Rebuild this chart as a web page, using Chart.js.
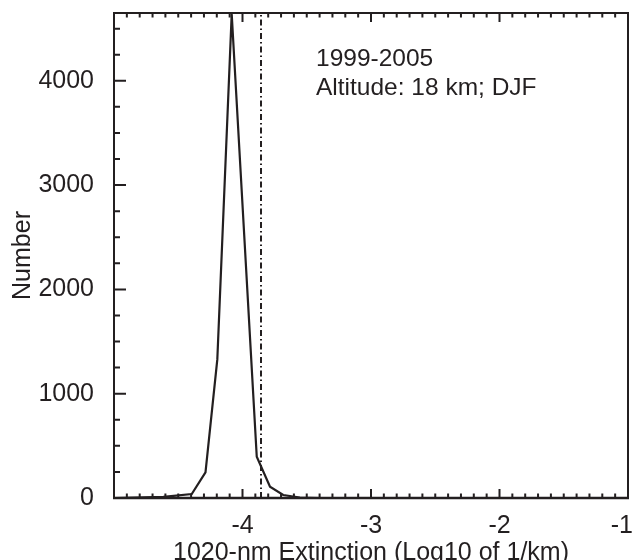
<!DOCTYPE html>
<html>
<head>
<meta charset="utf-8">
<script src="https://cdn.jsdelivr.net/npm/chart.js@4"></script>
<style>
  html, body { margin: 0; padding: 0; background: #fff; }
  #wrap { width: 633px; height: 560px; position: relative; }
</style>
</head>
<body>
<div id="wrap"><canvas id="c" width="633" height="560"></canvas></div>
<script>
// ---- data ----
const extinction = [-5.0, -4.616, -4.395, -4.288, -4.196, -4.084, -3.889, -3.786, -3.683, -3.553, -3.40];
const counts     = [0,     10,     38,     245,    1329,   4640,   395,    108,    29,     5,      0];
const medianValue = -3.856;
const xTickValues = [-5, -4, -3, -2, -1];
const xTickLabels = ['', '-4', '-3', '-2', '-1'];
const yTickValues = [0, 1000, 2000, 3000, 4000];
const yMax = 4650;
const annotationLines = ['1999-2005', 'Altitude: 18 km; DJF'];
const xTitle = '1020-nm Extinction (Log10 of 1/km)';
const yTitle = 'Number';

const FONT = '"Liberation Sans", Arial, sans-serif';
const FS = 25;
const INK = '#231f20';

const boxPlugin = {
  id: 'box',
  afterDraw(chart) {
    const ctx = chart.ctx;
    const a = chart.chartArea;
    const xs = chart.scales.x, ys = chart.scales.y;
    ctx.save();
    ctx.strokeStyle = INK;
    ctx.lineCap = 'butt';
    // box
    ctx.lineWidth = 2;
    ctx.strokeRect(a.left, a.top, a.right - a.left, a.bottom - a.top);
    ctx.lineWidth = 2.5;
    ctx.beginPath(); ctx.moveTo(a.left - 1, a.bottom); ctx.lineTo(a.right + 1, a.bottom); ctx.stroke();
    // x ticks (bottom and top)
    ctx.lineWidth = 2;
    ctx.beginPath();
    for (let i = 0; i <= 40; i++) {
      const v = xs.min + i * 0.1;
      const px = xs.getPixelForValue(v);
      const major = (i % 10 === 0);
      const len = major ? 9 : 4.5;
      ctx.moveTo(px, a.bottom); ctx.lineTo(px, a.bottom - len);
      ctx.moveTo(px, a.top); ctx.lineTo(px, a.top + len);
    }
    // y ticks (left)
    for (let v = 0; v <= yMax; v += 250) {
      const py = ys.getPixelForValue(v);
      const major = (v % 1000 === 0);
      const len = major ? 12 : 6;
      ctx.moveTo(a.left, py); ctx.lineTo(a.left + len, py);
    }
    ctx.stroke();
    // annotation text
    ctx.fillStyle = INK;
    ctx.font = '24.5px ' + FONT;
    ctx.textAlign = 'left';
    ctx.textBaseline = 'alphabetic';
    ctx.fillText(annotationLines[0], 316, 66);
    ctx.fillText(annotationLines[1], 316, 95);
    ctx.restore();
  }
};

new Chart(document.getElementById('c'), {
  type: 'line',
  data: {
    datasets: [
      {
        data: extinction.map((x, i) => ({ x, y: counts[i] })),
        borderColor: INK,
        borderWidth: 2.2,
        pointRadius: 0,
        tension: 0,
        fill: false
      },
      {
        data: [{ x: medianValue, y: 0 }, { x: medianValue, y: yMax }],
        borderColor: INK,
        borderWidth: 2,
        borderDash: [6, 3, 1.5, 3],
        pointRadius: 0,
        fill: false
      }
    ]
  },
  options: {
    responsive: false,
    animation: false,
    events: [],
    layout: { autoPadding: false, padding: { top: 13, right: 5, left: 0, bottom: 0 } },
    plugins: { legend: { display: false }, tooltip: { enabled: false } },
    scales: {
      x: {
        type: 'linear',
        min: -5, max: -1,
        grid: { display: false, drawTicks: false },
        border: { display: false },
        afterBuildTicks(scale) { scale.ticks = xTickValues.map(v => ({ value: v })); },
        afterFit(scale) { scale.height = 62; scale.paddingLeft = 0; scale.paddingRight = 0; },
        ticks: {
          color: INK,
          font: { family: FONT, size: FS },
          padding: 13,
          maxRotation: 0,
          autoSkip: false,
          callback: (v) => {
            const i = xTickValues.indexOf(v);
            return i === xTickValues.length - 1 ? xTickLabels[i] + '\u2002' : xTickLabels[i];
          }
        },
        title: {
          display: true, text: xTitle, color: INK,
          font: { family: FONT, size: FS },
          padding: { top: 0, bottom: -8 }
        }
      },
      y: {
        type: 'linear',
        min: 0, max: yMax,
        grid: { display: false, drawTicks: false },
        border: { display: false },
        afterBuildTicks(scale) { scale.ticks = yTickValues.map(v => ({ value: v })); },
        afterFit(scale) { scale.width = 114; scale.paddingTop = 0; scale.paddingBottom = 0; },
        ticks: {
          color: INK,
          font: { family: FONT, size: FS },
          padding: 20,
          autoSkip: false,
          callback: (v) => String(v)
        },
        title: {
          display: true, text: yTitle, color: INK,
          font: { family: FONT, size: FS },
          padding: { top: 8, bottom: 0 }
        }
      }
    }
  },
  plugins: [boxPlugin]
});
</script>
</body>
</html>
